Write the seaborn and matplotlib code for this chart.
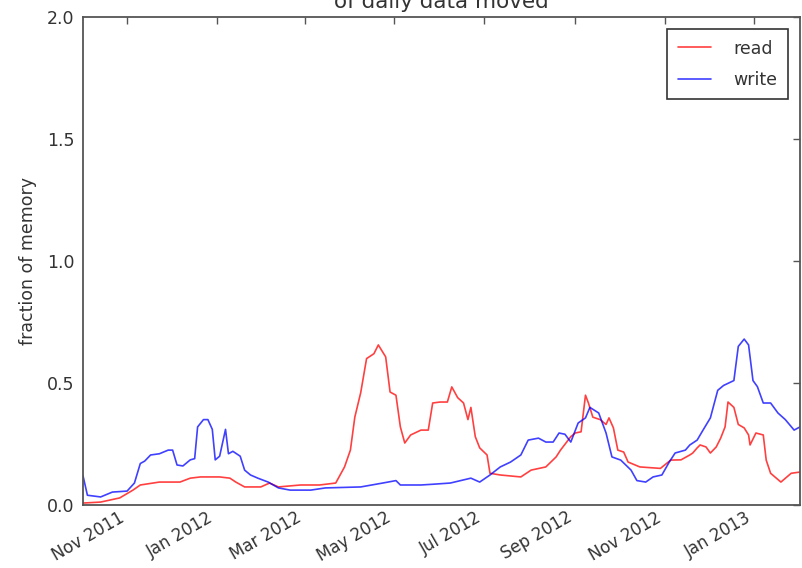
import matplotlib
matplotlib.use("Agg")
import matplotlib.pyplot as plt
import matplotlib.dates as mdates
import pandas as pd
import seaborn as sns

# Daily data moved, as a fraction of memory
write_dates = [
    "2011-10-02", "2011-10-05", "2011-10-14", "2011-10-22", "2011-11-01", "2011-11-06",
    "2011-11-10", "2011-11-13", "2011-11-17", "2011-11-23", "2011-11-29", "2011-12-02",
    "2011-12-05", "2011-12-09", "2011-12-14", "2011-12-17", "2011-12-19", "2011-12-23",
    "2011-12-26", "2011-12-29", "2011-12-31", "2012-01-03", "2012-01-07", "2012-01-09",
    "2012-01-12", "2012-01-17", "2012-01-20", "2012-01-24", "2012-01-29", "2012-02-05",
    "2012-02-12", "2012-02-20", "2012-03-05", "2012-03-15", "2012-04-08", "2012-04-23",
    "2012-05-02", "2012-05-05", "2012-05-19", "2012-05-27", "2012-06-08", "2012-06-22",
    "2012-06-28", "2012-07-05", "2012-07-12", "2012-07-19", "2012-07-26", "2012-07-31",
    "2012-08-07", "2012-08-12", "2012-08-17", "2012-08-21", "2012-08-25", "2012-08-29",
    "2012-09-03", "2012-09-08", "2012-09-11", "2012-09-17", "2012-09-22", "2012-09-26",
    "2012-10-02", "2012-10-09", "2012-10-13", "2012-10-19", "2012-10-24", "2012-10-30",
    "2012-11-04", "2012-11-08", "2012-11-15", "2012-11-18", "2012-11-23", "2012-11-27",
    "2012-12-02", "2012-12-07", "2012-12-11", "2012-12-18", "2012-12-21", "2012-12-25",
    "2012-12-28", "2012-12-31", "2013-01-03", "2013-01-07", "2013-01-12", "2013-01-17",
    "2013-01-22", "2013-01-28", "2013-02-01",
]
write_vals = [
    0.12, 0.04, 0.033, 0.053, 0.057, 0.09,
    0.17, 0.18, 0.205, 0.21, 0.225, 0.225,
    0.164, 0.16, 0.185, 0.19, 0.32, 0.35,
    0.35, 0.31, 0.185, 0.20, 0.31, 0.21,
    0.22, 0.20, 0.143, 0.123, 0.11, 0.094,
    0.07, 0.061, 0.061, 0.07, 0.074, 0.09,
    0.10, 0.082, 0.082, 0.085, 0.09, 0.11,
    0.094, 0.123, 0.156, 0.176, 0.205, 0.266,
    0.274, 0.258, 0.258, 0.295, 0.29, 0.258,
    0.336, 0.357, 0.40, 0.377, 0.295, 0.197,
    0.184, 0.143, 0.10, 0.094, 0.115, 0.123,
    0.176, 0.213, 0.225, 0.246, 0.266, 0.307,
    0.357, 0.47, 0.49, 0.51, 0.65, 0.68,
    0.656, 0.51, 0.485, 0.418, 0.418, 0.377,
    0.35, 0.307, 0.32,
]

read_dates = [
    "2011-10-02", "2011-10-14", "2011-10-27", "2011-11-05", "2011-11-10", "2011-11-23",
    "2011-12-07", "2011-12-14", "2011-12-21", "2012-01-03", "2012-01-10", "2012-01-14",
    "2012-01-20", "2012-01-31", "2012-02-06", "2012-02-12", "2012-02-27", "2012-03-11",
    "2012-03-22", "2012-03-28", "2012-04-01", "2012-04-04", "2012-04-08", "2012-04-12",
    "2012-04-17", "2012-04-20", "2012-04-25", "2012-04-28", "2012-05-02", "2012-05-05",
    "2012-05-08", "2012-05-12", "2012-05-19", "2012-05-24", "2012-05-27", "2012-06-01",
    "2012-06-06", "2012-06-09", "2012-06-13", "2012-06-17", "2012-06-20", "2012-06-22",
    "2012-06-25", "2012-06-28", "2012-07-03", "2012-07-05", "2012-07-12", "2012-07-26",
    "2012-08-02", "2012-08-12", "2012-08-19", "2012-08-22", "2012-08-29", "2012-09-01",
    "2012-09-05", "2012-09-08", "2012-09-10", "2012-09-13", "2012-09-18", "2012-09-22",
    "2012-09-24", "2012-09-27", "2012-09-30", "2012-10-04", "2012-10-07", "2012-10-15",
    "2012-10-29", "2012-11-05", "2012-11-12", "2012-11-18", "2012-11-20", "2012-11-23",
    "2012-11-25", "2012-11-29", "2012-12-02", "2012-12-06", "2012-12-09", "2012-12-12",
    "2012-12-14", "2012-12-18", "2012-12-21", "2012-12-25", "2012-12-28", "2012-12-29",
    "2013-01-02", "2013-01-07", "2013-01-09", "2013-01-12", "2013-01-19", "2013-01-26",
    "2013-02-01",
]
read_vals = [
    0.008, 0.012, 0.029, 0.061, 0.082, 0.094,
    0.094, 0.11, 0.115, 0.115, 0.11, 0.094,
    0.074, 0.074, 0.09, 0.074, 0.082, 0.082,
    0.09, 0.156, 0.225, 0.36, 0.46, 0.60,
    0.62, 0.656, 0.607, 0.463, 0.45, 0.32,
    0.254, 0.287, 0.307, 0.307, 0.418, 0.422,
    0.422, 0.484, 0.44, 0.418, 0.35, 0.40,
    0.28, 0.234, 0.205, 0.13, 0.123, 0.115,
    0.143, 0.156, 0.197, 0.225, 0.28, 0.295,
    0.30, 0.45, 0.418, 0.36, 0.35, 0.33,
    0.357, 0.316, 0.225, 0.217, 0.176, 0.156,
    0.15, 0.184, 0.185, 0.205, 0.213, 0.234,
    0.246, 0.238, 0.213, 0.238, 0.274, 0.32,
    0.422, 0.40, 0.33, 0.316, 0.287, 0.246,
    0.295, 0.287, 0.184, 0.13, 0.094, 0.13,
    0.135,
]

series_names = ["read", "write"]
series_colors = ["#ff0000", "#0000ff"]
y_ticks = [0.0, 0.5, 1.0, 1.5, 2.0]

df = pd.concat([
    pd.DataFrame({"date": pd.to_datetime(read_dates), "value": read_vals, "kind": "read"}),
    pd.DataFrame({"date": pd.to_datetime(write_dates), "value": write_vals, "kind": "write"}),
], ignore_index=True)

sns.set_style("white")
plt.rcParams["font.family"] = ["DejaVu Sans"]
plt.rcParams["xtick.direction"] = "in"
plt.rcParams["ytick.direction"] = "in"

fig = plt.figure(figsize=(8.03, 5.68), dpi=100)
ax = fig.add_axes([83 / 803, 63 / 568, 717 / 803, 488 / 568])

sns.lineplot(data=df, x="date", y="value", hue="kind", hue_order=series_names,
             palette=dict(zip(series_names, series_colors)), estimator=None,
             sort=True, linewidth=1.2, alpha=0.75, ax=ax)

ax.set_xlim(pd.Timestamp("2011-10-02"), pd.Timestamp("2013-02-01"))
ax.set_ylim(0, 2.0)
ax.set_yticks(y_ticks)
ax.set_yticklabels([f"{t:.1f}" for t in y_ticks])
ax.xaxis.set_major_locator(mdates.MonthLocator(bymonth=[1, 3, 5, 7, 9, 11]))
ax.xaxis.set_major_formatter(mdates.DateFormatter("%b %Y"))

text_color = "#333333"
ax.tick_params(axis="both", which="major", direction="in", length=5, width=1,
               color="#555555", labelsize=12.5, labelcolor=text_color,
               top=True, right=True, pad=6)
ax.tick_params(axis="x", labelsize=12, pad=2.5)
for lab in ax.get_xticklabels():
    lab.set_rotation(30)
    lab.set_horizontalalignment("right")

for sp in ax.spines.values():
    sp.set_visible(True)
    sp.set_color("#555555")
    sp.set_linewidth(1.3)

ax.set_xlabel("")
ax.set_ylabel("fraction of memory", fontsize=12.5, color=text_color, labelpad=7)
ax.set_title("of daily data moved", fontsize=15.5, color=text_color, pad=6.5)

handles, labels = ax.get_legend_handles_labels()
leg = ax.legend(handles, labels, loc="upper right", fontsize=12.5, frameon=True,
                fancybox=False, edgecolor="#333333", framealpha=1,
                handlelength=1.9, handletextpad=1.3, borderpad=0.6,
                labelspacing=0.75, borderaxespad=0.7)
leg.get_frame().set_linewidth(1.2)
for t in leg.get_texts():
    t.set_color(text_color)

fig.savefig("out.png", dpi=100)
